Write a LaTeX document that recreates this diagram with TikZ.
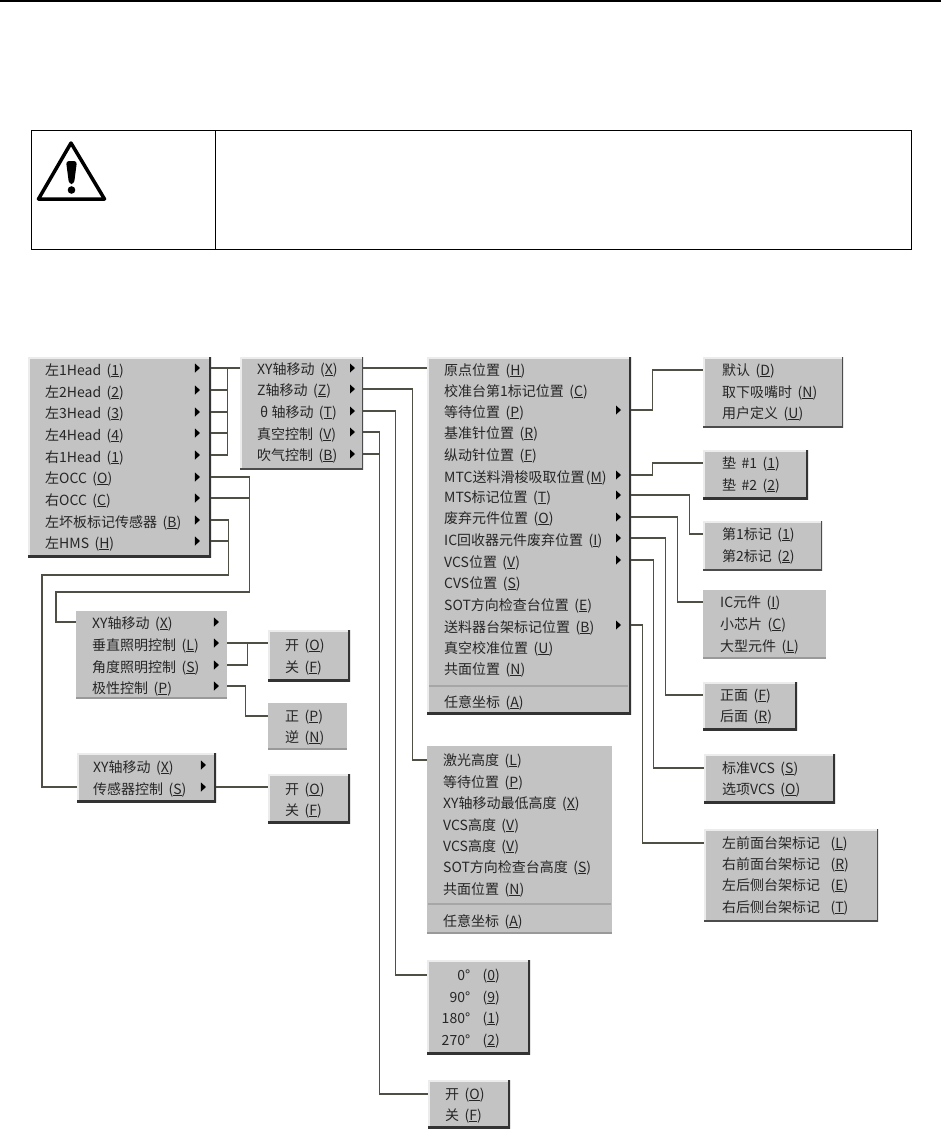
\documentclass[tikz,border=0pt]{standalone}
\usepackage{fontspec}
\setmainfont{Noto Sans CJK SC}
\usepackage{tikz}
\usetikzlibrary{positioning, calc, shapes.geometric}
\definecolor{menugray}{HTML}{C3C3C3}
\definecolor{wiregray}{HTML}{4F4F45}
\newcommand{\key}[1]{\,(\underline{#1})}

\begin{document}
\begin{tikzpicture}[
    x=1pt, y=-1pt,
    item/.style ={anchor=west, inner sep=0pt, text height=11pt, text depth=1pt, font=\fontsize{14}{15}\selectfont, text=black!85},
    itemr/.style={item, anchor=east},
    tri/.style  ={isosceles triangle, isosceles triangle stretches, fill=black, inner sep=0pt, minimum width=9pt, minimum height=5pt},
    wire/.style ={draw=wiregray, line width=1.5pt},
    sep/.style  ={draw=gray!70, line width=1.2pt},
    warncell/.style={rectangle, draw=black, line width=1pt, anchor=north west, inner sep=0pt, outer sep=0pt},
    flat/.style ={rectangle, fill=menugray, anchor=north west, inner sep=0pt,
        path picture={\draw[gray!80, line width=2pt] (path picture bounding box.south west) -- (path picture bounding box.south east);}},
    mid/.style  ={rectangle, fill=menugray, anchor=north west, inner sep=0pt,
        path picture={\draw[gray!15, line width=3pt] (path picture bounding box.south west) -- (path picture bounding box.north west) -- (path picture bounding box.north east);
                      \draw[gray!60!black, line width=3pt] (path picture bounding box.north east) -- (path picture bounding box.south east) -- (path picture bounding box.south west);}},
    menu/.style ={rectangle, fill=menugray, anchor=north west, inner sep=0pt,
        path picture={\draw[gray!15, line width=3pt] (path picture bounding box.south west) -- (path picture bounding box.north west) -- (path picture bounding box.north east);
                      \draw[black!80, line width=3.5pt] (path picture bounding box.north east) -- (path picture bounding box.south east) -- (path picture bounding box.south west);}},
]
\useasboundingbox (0,0) rectangle (941,1148);
% page rule and warning box
\fill[black] (0,0) rectangle (941,2);
\node[warncell, minimum width=184pt, minimum height=119pt] (warnicon) at (31,130) {};
\node[warncell, minimum width=696pt, minimum height=119pt, right=0pt of warnicon] (warntext) {};
\draw[line width=3.5pt, line join=round] (71,143) -- (104.5,199) -- (38.5,199) -- cycle;
\fill[rounded corners=3pt] (66,161) -- (77,161) -- (74,184) -- (69,184) -- cycle;
\fill (71.5,190) circle (3.8pt);

% menu panels
\node[menu, minimum width=183pt, minimum height=200pt] (headmenu) at (28,357) {};
\node[mid,  minimum width=123pt, minimum height=112pt] (axismenu) at (240,357) {};
\node[menu, minimum width=204pt, minimum height=357pt] (posmenu)  at (427,357) {};
\node[mid,  minimum width=140pt, minimum height=70pt]  (nozmenu)  at (703,357) {};
\node[menu, minimum width=105pt, minimum height=49pt]  (padmenu)  at (703,450) {};
\node[mid,  minimum width=119pt, minimum height=49pt]  (markmenu) at (703,521) {};
\node[flat, minimum width=123pt, minimum height=68pt]  (icmenu)   at (703,590) {};
\node[menu, minimum width=94pt,  minimum height=48pt]  (facemenu) at (703,682) {};
\node[menu, minimum width=131pt, minimum height=49pt]  (vcsmenu)  at (704,754) {};
\node[mid,  minimum width=174pt, minimum height=92pt]  (rackmenu) at (704,829) {};
\node[flat, minimum width=185pt, minimum height=187pt] (heightmenu) at (427,746) {};
\node[menu, minimum width=103pt, minimum height=94pt]  (anglemenu) at (427,960) {};
\node[menu, minimum width=82pt,  minimum height=48pt]  (vacmenu)  at (428,1080) {};
\node[flat, minimum width=151pt, minimum height=87pt]  (occmenu)  at (76,611) {};
\node[menu, minimum width=82pt,  minimum height=51pt]  (lampmenu) at (268,630) {};
\node[flat, minimum width=79pt,  minimum height=46pt]  (polmenu)  at (268,703) {};
\node[menu, minimum width=139pt, minimum height=49pt]  (sensmenu) at (77,753) {};
\node[menu, minimum width=82pt,  minimum height=49pt]  (sensonoff) at (268,774) {};

% head menu
\node[item] (h1) at (45,370) {左1Head \key{1}};
\node[item] (h2) at (45,392) {左2Head \key{2}};
\node[item] (h3) at (45,413) {左3Head \key{3}};
\node[item] (h4) at (45,435) {左4Head \key{4}};
\node[item] (h5) at (45,457) {右1Head \key{1}};
\node[item] (h6) at (45,478) {左OCC \key{O}};
\node[item] (h7) at (45,500) {右OCC \key{C}};
\node[item] (h8) at (45,522) {左坏板标记传感器 \key{B}};
\node[item] (h9) at (45,543) {左HMS \key{H}};
\foreach \i/\y in {1/368,2/390,3/412,4/433,5/455,6/477,7/498,8/520,9/541}
    \node[tri] (h\i a) at (197,\y) {};

% axis menu
\node[item] (a1) at (257,369) {XY轴移动 \key{X}};
\node[item] (a2) at (257,390) {Z轴移动 \key{Z}};
\node[item] (a3) at (260,412) {θ 轴移动 \key{T}};
\node[item] (a4) at (257,434) {真空控制 \key{V}};
\node[item] (a5) at (257,455) {吹气控制 \key{B}};
\foreach \i/\y in {1/368,2/389,3/411,4/432,5/454}
    \node[tri] (a\i a) at (352,\y) {};

% position menu
\node[item] (p1)  at (444,370) {原点位置 \key{H}};
\node[item] (p2)  at (444,391) {校准台第1标记位置 \key{C}};
\node[item] (p3)  at (444,412) {等待位置 \key{P}};
\node[item] (p4)  at (444,433) {基准针位置 \key{R}};
\node[item] (p5)  at (444,455) {纵动针位置 \key{F}};
\node[item] (p6)  at (444,477) {MTC送料滑梭吸取位置\hspace{-1pt}\key{M}};
\node[item] (p7)  at (444,497) {MTS标记位置 \key{T}};
\node[item] (p8)  at (444,518) {废弃元件位置 \key{O}};
\node[item] (p9)  at (444,540) {IC回收器元件废弃位置 \key{I}};
\node[item] (p10) at (444,562) {VCS位置 \key{V}};
\node[item] (p11) at (444,583) {CVS位置 \key{S}};
\node[item] (p12) at (444,605) {SOT方向检查台位置 \key{E}};
\node[item] (p13) at (444,627) {送料器台架标记位置 \key{B}};
\node[item] (p14) at (444,648) {真空校准位置 \key{U}};
\node[item] (p15) at (444,669) {共面位置 \key{N}};
\node[item] (p16) at (444,702) {任意坐标 \key{A}};
\draw[sep] (429,686) -- (628,686);
\foreach \i/\y in {3/410,6/475,7/495,8/517,9/538,10/560,13/625}
    \node[tri] (p\i a) at (618,\y) {};

% sub menus of the position menu
\node[item] (n1) at (722,370) {默认 \key{D}};
\node[item] (n2) at (722,392) {取下吸嘴时 \key{N}};
\node[item] (n3) at (722,413) {用户定义 \key{U}};
\node[item] (d1) at (722,463) {垫 \,\#1 \key{1}};
\node[item] (d2) at (722,485) {垫 \,\#2 \key{2}};
\node[item] (m1) at (722,534) {第1标记 \key{1}};
\node[item] (m2) at (722,556) {第2标记 \key{2}};
\node[item] (i1) at (720,602) {IC元件 \key{I}};
\node[item] (i2) at (720,624) {小芯片 \key{C}};
\node[item] (i3) at (720,646) {大型元件 \key{L}};
\node[item] (f1) at (720,695) {正面 \key{F}};
\node[item] (f2) at (720,716) {后面 \key{R}};
\node[item] (v1) at (722,768) {标准VCS \key{S}};
\node[item] (v2) at (722,789) {选项VCS \key{O}};
\node[item] (r1) at (722,843) {左前面台架标记\hspace{8pt}\key{L}};
\node[item] (r2) at (722,864) {右前面台架标记\hspace{8pt}\key{R}};
\node[item] (r3) at (722,885) {左后侧台架标记\hspace{8pt}\key{E}};
\node[item] (r4) at (722,907) {右后侧台架标记\hspace{8pt}\key{T}};

% height menu
\node[item] (z1) at (443,760) {激光高度 \key{L}};
\node[item] (z2) at (443,782) {等待位置 \key{P}};
\node[item] (z3) at (443,803) {XY轴移动最低高度 \key{X}};
\node[item] (z4) at (443,825) {VCS高度 \key{V}};
\node[item] (z5) at (443,846) {VCS高度 \key{V}};
\node[item] (z6) at (443,867) {SOT方向检查台高度 \key{S}};
\node[item] (z7) at (443,889) {共面位置 \key{N}};
\node[item] (z8) at (443,921) {任意坐标 \key{A}};
\draw[sep] (428,904) -- (611,904);

% angle and vacuum menus
\node[itemr] (t1) at (500,975)  {0°\hspace{10pt}\key{0}};
\node[itemr] (t2) at (500,997)  {90°\hspace{10pt}\key{9}};
\node[itemr] (t3) at (500,1018) {180°\hspace{10pt}\key{1}};
\node[itemr] (t4) at (500,1040) {270°\hspace{10pt}\key{2}};
\node[item] (o1) at (445,1094) {开 \key{O}};
\node[item] (o2) at (445,1115) {关 \key{F}};

% OCC menu and its sub menus
\node[item] (c1) at (92,623) {XY轴移动 \key{X}};
\node[item] (c2) at (92,645) {垂直照明控制 \key{L}};
\node[item] (c3) at (92,667) {角度照明控制 \key{S}};
\node[item] (c4) at (92,688) {极性控制 \key{P}};
\foreach \i/\y in {1/622,2/643,3/665,4/686}
    \node[tri] (c\i a) at (216,\y) {};
\node[item] (l1) at (285,645) {开 \key{O}};
\node[item] (l2) at (285,667) {关 \key{F}};
\node[item] (q1) at (285,716) {正 \key{P}};
\node[item] (q2) at (285,737) {逆 \key{N}};

% sensor menu
\node[item] (s1) at (93,767) {XY轴移动 \key{X}};
\node[item] (s2) at (93,789) {传感器控制 \key{S}};
\foreach \i/\y in {1/765,2/787}
    \node[tri] (s\i a) at (203,\y) {};
\node[item] (w1) at (285,789) {开 \key{O}};
\node[item] (w2) at (285,810) {关 \key{F}};

% connectors
\draw[wire] (headmenu.east |- h1a) -- (axismenu.west |- h1a);
\draw[wire] (headmenu.east |- h2a) -- ++(16,0) |- (h1a -| axismenu.west);
\draw[wire] (headmenu.east |- h3a) -- ++(16,0) |- (h1a -| axismenu.west);
\draw[wire] (headmenu.east |- h4a) -- ++(16,0) |- (h1a -| axismenu.west);
\draw[wire] (headmenu.east |- h5a) -- ++(16,0) |- (h1a -| axismenu.west);
\draw[wire] (headmenu.east |- h6a) -- ++(38,0) |- (56,592) |- (occmenu.west |- c1a);
\draw[wire] (headmenu.east |- h7a) -- ++(38,0);
\draw[wire] (headmenu.east |- h8a) -- ++(17,0) |- (42,575) |- (sensmenu.west |- s2a);
\draw[wire] (headmenu.east |- h9a) -- ++(17,0);
\draw[wire] (axismenu.east |- a1a) -- (posmenu.west |- a1a);
\draw[wire] (axismenu.east |- a2a) -- ++(49,0) |- (heightmenu.west |- z1);
\draw[wire] (axismenu.east |- a3a) -- ++(32,0) |- (anglemenu.west |- t1);
\draw[wire] (axismenu.east |- a4a) -- ++(16,0) |- (vacmenu.west |- o1);
\draw[wire] (axismenu.east |- a5a) -- ++(16,0);
\draw[wire] (posmenu.east |- p3a) -- ++(21,0) |- (nozmenu.west |- n1);
\draw[wire] (posmenu.east |- p6a) -- ++(21,0) |- (padmenu.west |- d1);
\draw[wire] (posmenu.east |- p7a) -- ++(58,0) |- (markmenu.west |- m1);
\draw[wire] (posmenu.east |- p8a) -- ++(46,0) |- (icmenu.west |- i1);
\draw[wire] (posmenu.east |- p9a) -- ++(34,0) |- (facemenu.west |- f1);
\draw[wire] (posmenu.east |- p10a) -- ++(22,0) |- (vcsmenu.west |- v1);
\draw[wire] (posmenu.east |- p13a) -- ++(11,0) |- (rackmenu.west |- r1);
\draw[wire] (occmenu.east |- c2a) -- (lampmenu.west |- c2a);
\draw[wire] (occmenu.east |- c3a) -- ++(20,0) |- (lampmenu.west |- c2a);
\draw[wire] (occmenu.east |- c4a) -- ++(18,0) |- (polmenu.west |- q1);
\draw[wire] (sensmenu.east |- s2a) -- (sensonoff.west |- s2a);
\end{tikzpicture}
\end{document}
